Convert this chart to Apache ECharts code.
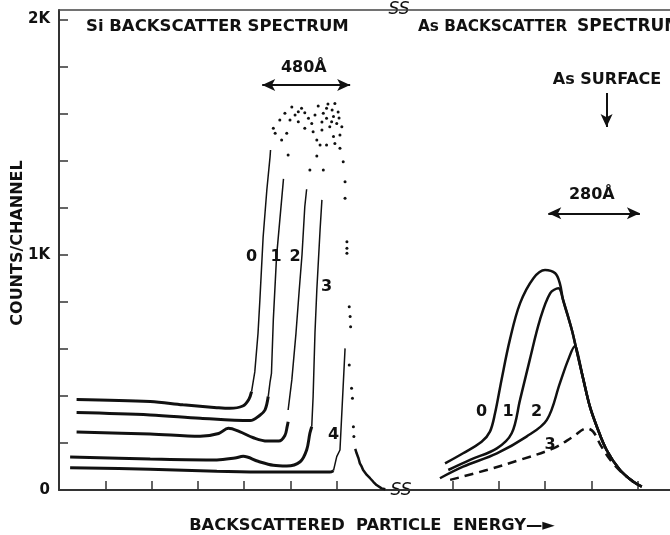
<!DOCTYPE html>
<html>
<head>
<meta charset="utf-8">
<script src="https://cdn.jsdelivr.net/npm/echarts@6/dist/echarts.min.js"></script>
<style>html,body{margin:0;padding:0;background:#fff}#c{width:670px;height:535px}</style>
</head>
<body>
<div id="c"></div>
<script>
// ---- axis ticks / labels ----
const xTickValues = [1, 2, 3, 4, 5, 6, 8.5, 9.5, 10.5, 11.5, 12.5];
const yTickValues = [200, 400, 600, 800, 1000, 1200, 1400, 1600, 1800, 2000];
const yLabelValues = [0, 1000, 2000];
const yLabelTexts = ['0', '1K', '2K'];

// ---- Si backscatter spectrum (aligned curves, doses 0..4) ----
const siCurve0Base = [[0.38,385],[1.97,376],[2.68,362],[3.41,350],[3.69,347],[3.97,357],[4.10,385],[4.16,418]];
const siCurve0Edge = [[4.16,418],[4.23,502],[4.30,667],[4.34,808],[4.41,1075],[4.49,1275],[4.56,1417],[4.57,1445]];
const siCurve1Base = [[0.38,329],[1.97,319],[3.05,305],[4.13,295],[4.34,318],[4.45,340],[4.52,397]];
const siCurve1Edge = [[4.52,397],[4.56,460],[4.59,496],[4.63,723],[4.70,992],[4.85,1322]];
const siCurve2Base = [[0.38,246],[1.97,238],[3.05,228],[3.45,240],[3.66,262],[3.90,248],[4.20,222],[4.50,208],[4.75,208],[4.88,232],[4.93,270],[4.95,290]];
const siCurve2Edge = [[4.95,340],[5.03,468],[5.12,667],[5.19,850],[5.25,1000],[5.31,1204],[5.35,1278]];
const siCurve3Base = [[0.24,140],[1.97,132],[3.41,128],[3.80,136],[3.98,143],[4.30,122],[4.63,105],[4.92,102],[5.21,120],[5.35,170],[5.42,241],[5.46,269]];
const siCurve3Edge = [[5.46,269],[5.49,397],[5.53,667],[5.57,850],[5.64,1105],[5.68,1233]];
const siCurve4Base = [[0.24,95],[1.97,88],[3.41,80],[4.49,76],[5.85,76],[5.93,82]];
const siCurve4Edge = [[5.93,82],[6.00,142],[6.07,170],[6.18,602]];
const siSurfaceDots = [[5.96,1643],[5.60,1632],[5.71,1601],[5.24,1622],[5.10,1594],[4.88,1601],[4.77,1573],[4.99,1573],[5.17,1565],[5.39,1580],[5.53,1594],[5.78,1580],[5.89,1565],[6.00,1558],[5.85,1544],[5.68,1530],[5.49,1523],[5.31,1537],[4.63,1537],[4.67,1516],[4.92,1516],[4.81,1488],[6.11,1544],[6.07,1509],[5.93,1502],[5.57,1488],[5.64,1466],[5.78,1466],[5.96,1473],[6.07,1452],[4.95,1424],[5.57,1420],[5.42,1360],[5.71,1360],[6.14,1395],[6.18,1310],[6.18,1240],[6.22,1055],[6.22,1027],[6.22,1006],[6.27,779],[6.29,737],[6.30,694],[6.27,531],[6.32,432],[6.34,390],[6.36,269],[6.37,227],[5.17,1608],[5.78,1622],[5.93,1587],[5.46,1558],[6.03,1607],[5.81,1641],[5.90,1615],[6.05,1581],[5.68,1564],[5.31,1603],[5.03,1628]];
const siTail = [[6.40,175],[6.43,156],[6.47,135],[6.50,113],[6.54,99],[6.57,85],[6.61,78],[6.65,64],[6.72,50],[6.79,35],[6.86,21],[6.97,7],[7.05,3]];

// ---- As backscatter spectrum ----
const asCurve0 = [[8.34,113],[8.73,156],[9.13,205],[9.31,248],[9.42,326],[9.56,468],[9.74,638],[9.96,793],[10.25,900],[10.50,935],[10.72,921],[10.82,878],[10.89,808],[11.08,680],[11.18,595],[11.33,468],[11.47,354],[11.62,269],[11.83,170],[12.12,85],[12.41,35],[12.59,14]];
const asCurve1 = [[8.41,85],[8.88,128],[9.46,177],[9.78,241],[9.96,383],[10.17,553],[10.39,723],[10.61,836],[10.79,857],[10.89,808],[11.08,680],[11.18,595],[11.33,468],[11.47,354],[11.62,269],[11.83,170],[12.12,85],[12.41,35],[12.59,14]];
const asCurve2 = [[8.23,50],[8.73,99],[9.46,156],[10.10,227],[10.54,298],[10.82,453],[11.00,553],[11.15,612],[11.20,585],[11.33,468],[11.47,354],[11.62,269],[11.83,170],[12.12,85],[12.41,35],[12.59,14]];
const asCurve3 = [[8.45,43],[9.24,85],[9.96,128],[10.68,177],[11.11,227],[11.40,262],[11.54,248],[11.72,184],[11.97,113],[12.26,57],[12.48,28]];

// ---- annotations (data coordinates) ----
const curveLabels = [[4.16,992,'0'],[4.69,992,'1'],[5.10,992,'2'],[5.78,864,'3'],[5.93,234,'4'],
                     [9.13,333,'0'],[9.70,333,'1'],[10.32,333,'2'],[10.61,191,'3']];
const textNotes = [[5.29,1794,'480Å'],[11.84,1743,'As SURFACE'],[11.51,1254,'280Å']];
const arrow480 = [[4.39,1721],[6.29,1721]];
const arrow280 = [[10.57,1176],[12.55,1176]];
const arrowSurface = [[11.83,1687],[11.83,1543]];

const FONT = 'DejaVu Sans';
const INK = '#111';

function curve(name, data, width, smooth, dashed) {
  return {
    name, type: 'line', data, smooth: smooth ? 0.35 : false, symbol: 'none',
    lineStyle: { color: INK, width, type: dashed ? [9, 6] : 'solid' },
    z: 3, silent: true
  };
}

const chart = echarts.init(document.getElementById('c'));
chart.setOption({
  animation: false,
  backgroundColor: '#fff',
  grid: { left: 59, right: 0, top: 10, bottom: 45 },
  xAxis: [{
    type: 'value', min: 0, max: 13.2, position: 'bottom',
    axisLine: { onZero: false, lineStyle: { color: '#333', width: 2 } },
    axisTick: { show: true, inside: true, length: 9, customValues: xTickValues, lineStyle: { color: '#333', width: 1.5 } },
    axisLabel: { show: false }, splitLine: { show: false }
  }, {
    type: 'value', min: 0, max: 13.2, position: 'top',
    axisLine: { onZero: false, lineStyle: { color: '#444', width: 1.5 } },
    axisTick: { show: false }, axisLabel: { show: false }, splitLine: { show: false }
  }],
  yAxis: {
    type: 'value', min: 0, max: 2040,
    axisLine: { show: true, onZero: false, lineStyle: { color: '#333', width: 2 } },
    axisTick: { show: true, inside: true, length: 9, customValues: yTickValues, lineStyle: { color: '#333', width: 1.5 } },
    axisLabel: {
      customValues: yLabelValues, margin: 9, color: INK, fontFamily: FONT, fontSize: 15, fontWeight: 'bold',
      formatter: v => yLabelTexts[yLabelValues.indexOf(v)]
    },
    splitLine: { show: false }
  },
  series: [
    curve('Si 0', siCurve0Base, 3, true), curve('Si 0 edge', siCurve0Edge, 1.5, false),
    curve('Si 1', siCurve1Base, 3, true), curve('Si 1 edge', siCurve1Edge, 1.5, false),
    curve('Si 2', siCurve2Base, 3, true), curve('Si 2 edge', siCurve2Edge, 1.5, false),
    curve('Si 3', siCurve3Base, 3, true), curve('Si 3 edge', siCurve3Edge, 1.5, false),
    curve('Si 4', siCurve4Base, 3, true), curve('Si 4 edge', siCurve4Edge, 1.5, false),
    curve('Si tail', siTail, 2.5, false),
    {
      name: 'Si surface', type: 'scatter', data: siSurfaceDots, symbolSize: 3,
      itemStyle: { color: INK, opacity: 1 }, silent: true, z: 3
    },
    curve('As 0', asCurve0, 2.5, true),
    curve('As 1', asCurve1, 2.5, true),
    curve('As 2', asCurve2, 2.5, true),
    curve('As 3', asCurve3, 2.5, true, true),
    {
      name: 'labels', type: 'scatter', symbolSize: 1, silent: true, z: 5,
      data: curveLabels.concat(textNotes),
      itemStyle: { color: 'rgba(0,0,0,0)', opacity: 1 },
      label: {
        show: true, position: 'inside', color: INK, fontFamily: FONT,
        fontSize: 16, fontWeight: 'bold', formatter: p => p.value[2]
      },
      markLine: {
        silent: true, animation: false,
        symbol: ['arrow', 'arrow'], symbolSize: [9, 13],
        lineStyle: { color: INK, width: 2, type: 'solid', opacity: 1 },
        label: { show: false },
        data: [
          [{ coord: arrow480[0] }, { coord: arrow480[1] }],
          [{ coord: arrow280[0] }, { coord: arrow280[1] }],
          [{ coord: arrowSurface[0], symbol: 'none' }, { coord: arrowSurface[1], symbol: 'arrow' }]
        ]
      }
    }
  ],
  graphic: [
    { type: 'text', style: { text: 'Si BACKSCATTER SPECTRUM', x: 86, y: 27, verticalAlign: 'middle', font: 'bold 16.5px "DejaVu Sans"', fill: INK } },
    { type: 'text', style: { text: 'As BACKSCATTER', x: 418, y: 27, verticalAlign: 'middle', font: 'bold 15.3px "DejaVu Sans"', fill: INK } },
    { type: 'text', style: { text: 'SPECTRUM', x: 577, y: 27, verticalAlign: 'middle', font: 'bold 17px "DejaVu Sans"', fill: INK } },
    { type: 'text', x: 18, y: 243, rotation: Math.PI / 2, style: { text: 'COUNTS/CHANNEL', x: 0, y: 0, align: 'center', verticalAlign: 'middle', font: 'bold 16px "DejaVu Sans"', fill: INK } },
    { type: 'text', style: { text: 'BACKSCATTERED  PARTICLE  ENERGY—►', x: 372, y: 526, align: 'center', verticalAlign: 'middle', font: 'bold 16.3px "DejaVu Sans"', fill: INK } },
    { type: 'text', style: { text: 'SS', x: 399, y: 10, align: 'center', verticalAlign: 'middle', font: 'italic 17px "DejaVu Sans"', fill: INK } },
    { type: 'text', style: { text: 'SS', x: 401, y: 491, align: 'center', verticalAlign: 'middle', font: 'italic 17px "DejaVu Sans"', fill: INK } }
  ]
});
</script>
</body>
</html>
